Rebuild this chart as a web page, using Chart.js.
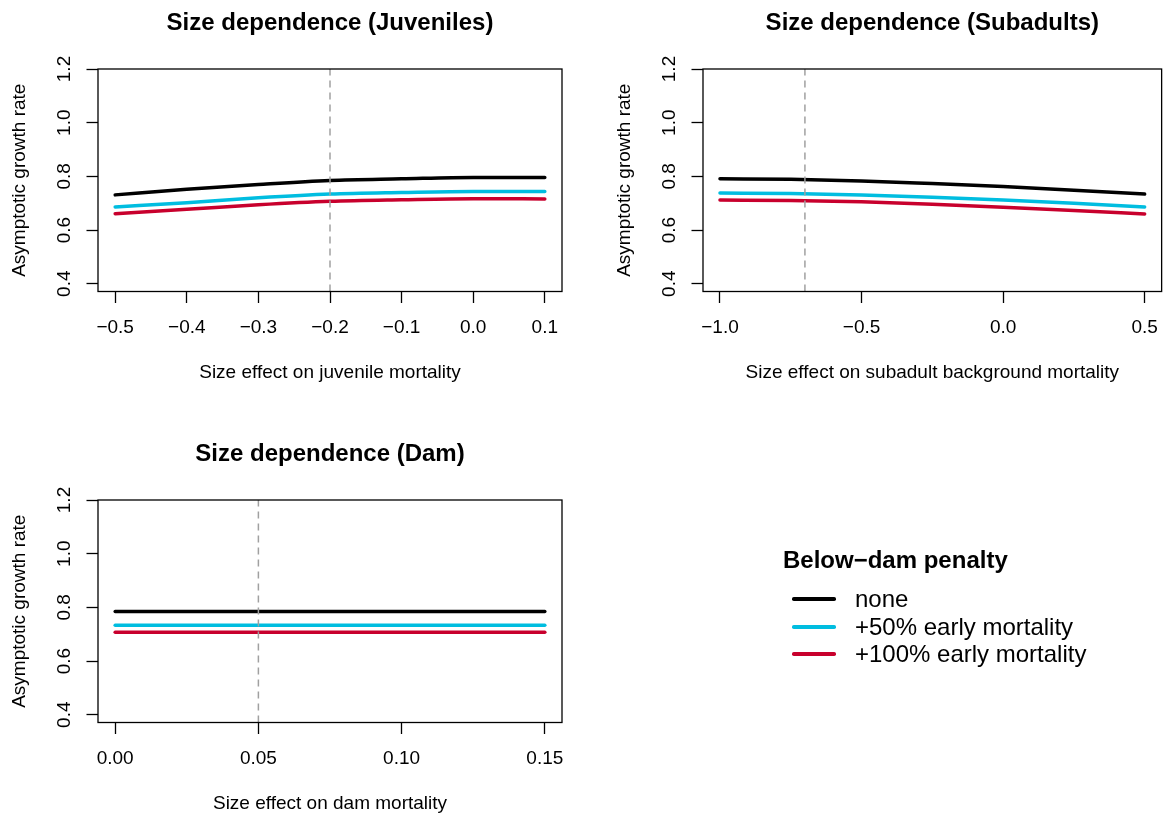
<!DOCTYPE html>
<html>
<head>
<meta charset="utf-8">
<title>Size dependence</title>
<script src="https://cdn.jsdelivr.net/npm/chart.js@4.4.1/dist/chart.umd.min.js"></script>
<style>
  body { margin: 0; background: #fff; }
  #page { position: relative; width: 1171px; height: 818px; overflow: hidden; }
  #page canvas { position: absolute; left: 0; top: 0; }
  .lg { position: absolute; font-family: 'Liberation Sans', Arial, Helvetica, sans-serif; color: #000; line-height: 1; white-space: nowrap; }
  .sw { position: absolute; height: 3.5px; width: 44px; border-radius: 1.75px; }
</style>
</head>
<body>
<div id="page">
  <canvas id="juv" width="1171" height="818"></canvas>
  <canvas id="sub" width="1171" height="818"></canvas>
  <canvas id="dam" width="1171" height="818"></canvas>

  <div class="lg" style="left:783px; top:548px; font-size:24px; font-weight:bold;">Below−dam penalty</div>
  <div class="sw" style="left:792px; top:597.25px; background:#000000;"></div>
  <div class="lg" style="left:855px; top:587px; font-size:24px;">none</div>
  <div class="sw" style="left:792px; top:625.25px; background:#00bde0;"></div>
  <div class="lg" style="left:855px; top:615px; font-size:24px;">+50% early mortality</div>
  <div class="sw" style="left:792px; top:652.25px; background:#c8002d;"></div>
  <div class="lg" style="left:855px; top:642px; font-size:24px;">+100% early mortality</div>
</div>

<script>
// growth rate under the three below-dam penalty scenarios
const seriesNames = ['none', '+50% early mortality', '+100% early mortality'];
const seriesColors = ['#000000', '#00bde0', '#c8002d'];

// juvenile size effect
const juvX = [-0.5, -0.4, -0.3, -0.2, -0.1, 0.0, 0.1];
const juvNone = [0.731, 0.752, 0.770, 0.785, 0.791, 0.796, 0.796];
const juvPlus50 = [0.686, 0.702, 0.720, 0.734, 0.740, 0.744, 0.744];
const juvPlus100 = [0.661, 0.677, 0.694, 0.707, 0.713, 0.717, 0.716];
const juvRef = -0.2;

// subadult background mortality size effect
const subX = [-1.0, -0.75, -0.5, -0.25, 0.0, 0.25, 0.5];
const subNone = [0.791, 0.789, 0.783, 0.773, 0.762, 0.748, 0.734];
const subPlus50 = [0.738, 0.736, 0.731, 0.722, 0.712, 0.700, 0.686];
const subPlus100 = [0.712, 0.710, 0.705, 0.696, 0.685, 0.673, 0.660];
const subRef = -0.7;

// dam mortality size effect
const damX = [0.0, 0.05, 0.10, 0.15];
const damNone = [0.785, 0.785, 0.785, 0.785];
const damPlus50 = [0.733, 0.733, 0.733, 0.733];
const damPlus100 = [0.707, 0.707, 0.707, 0.707];
const damRef = 0.05;

// axis ticks
const yTicks = [0.4, 0.6, 0.8, 1.0, 1.2];
const yTickLabels = ['0.4', '0.6', '0.8', '1.0', '1.2'];
const juvXTicks = [-0.5, -0.4, -0.3, -0.2, -0.1, 0.0, 0.1];
const juvXTickLabels = ['−0.5', '−0.4', '−0.3', '−0.2', '−0.1', '0.0', '0.1'];
const subXTicks = [-1.0, -0.5, 0.0, 0.5];
const subXTickLabels = ['−1.0', '−0.5', '0.0', '0.5'];
const damXTicks = [0.0, 0.05, 0.10, 0.15];
const damXTickLabels = ['0.00', '0.05', '0.10', '0.15'];

const FONT = "'Liberation Sans', Arial, Helvetica, sans-serif";
const Y_MIN = 0.371, Y_MAX = 1.2;
const PAGE_W = 1171, PAGE_H = 818;
const Y_AXIS_W = 60, X_AXIS_H = 60;

Chart.defaults.font.family = FONT;
Chart.defaults.color = '#000';

// box round the plot area, plus the main and axis titles
const frame = {
  id: 'frame',
  afterDraw(chart, args, opts) {
    const { ctx, chartArea: a } = chart;
    const cx = (a.left + a.right) / 2;
    ctx.save();
    ctx.strokeStyle = '#000';
    ctx.lineWidth = 1.3;
    ctx.strokeRect(a.left, a.top, a.right - a.left, a.bottom - a.top);
    ctx.fillStyle = '#000';
    ctx.textAlign = 'center';
    ctx.textBaseline = 'middle';
    ctx.font = 'bold 24px ' + FONT;
    ctx.fillText(opts.title, cx, a.top - 46);
    ctx.font = '19px ' + FONT;
    ctx.fillText(opts.xTitle, cx, a.bottom + 81.5);
    ctx.translate(a.left - 78, (a.top + a.bottom) / 2);
    ctx.rotate(-Math.PI / 2);
    ctx.fillText(opts.yTitle, 0, 0);
    ctx.restore();
  }
};

function pts(xs, ys) {
  return xs.map((x, i) => ({ x: x, y: ys[i] }));
}

function makePanel(id, cfg) {
  const a = cfg.area;
  const lines = cfg.series.map((ys, i) => ({
    label: seriesNames[i],
    data: pts(cfg.x, ys),
    borderColor: seriesColors[i],
    borderWidth: 3.5,
    borderCapStyle: 'round',
    pointRadius: 0,
    cubicInterpolationMode: 'monotone',
    order: i + 1
  }));
  // vertical dashed reference line
  lines.push({
    label: 'reference',
    data: [{ x: cfg.ref, y: Y_MIN }, { x: cfg.ref, y: Y_MAX }],
    borderColor: '#a0a0a0',
    borderWidth: 1.5,
    borderDash: [7, 5],
    pointRadius: 0,
    order: 0
  });

  new Chart(document.getElementById(id), {
    type: 'line',
    data: { datasets: lines },
    plugins: [frame],
    options: {
      responsive: false,
      animation: false,
      events: [],
      layout: {
        padding: {
          left: a.left - Y_AXIS_W,
          top: a.top,
          right: PAGE_W - a.right,
          bottom: PAGE_H - a.bottom - X_AXIS_H
        }
      },
      plugins: {
        legend: { display: false },
        tooltip: { enabled: false },
        frame: { title: cfg.title, xTitle: cfg.xTitle, yTitle: 'Asymptotic growth rate' }
      },
      scales: {
        x: {
          type: 'linear',
          min: cfg.xMin,
          max: cfg.xMax,
          afterBuildTicks: s => { s.ticks = cfg.xTicks.map(v => ({ value: v })); },
          afterFit: s => { s.height = X_AXIS_H; },
          border: { display: false },
          grid: { drawOnChartArea: false, tickLength: 11.5, tickColor: '#000', tickWidth: 1.3 },
          ticks: {
            autoSkip: false,
            maxRotation: 0,
            padding: 13,
            font: { size: 19 },
            callback: (v, i) => cfg.xTickLabels[i]
          }
        },
        y: {
          type: 'linear',
          min: Y_MIN,
          max: Y_MAX,
          afterBuildTicks: s => { s.ticks = yTicks.map(v => ({ value: v })); },
          afterFit: s => { s.width = Y_AXIS_W; },
          border: { display: false },
          grid: { drawOnChartArea: false, tickLength: 11.5, tickColor: '#000', tickWidth: 1.3 },
          ticks: {
            minRotation: 90,
            maxRotation: 90,
            crossAlign: 'center',
            padding: 9,
            font: { size: 19 },
            callback: (v, i) => yTickLabels[i]
          }
        }
      }
    }
  });
}

makePanel('juv', {
  title: 'Size dependence (Juveniles)',
  xTitle: 'Size effect on juvenile mortality',
  area: { left: 98, top: 69, right: 562, bottom: 291.5 },
  xMin: -0.524, xMax: 0.124,
  x: juvX, series: [juvNone, juvPlus50, juvPlus100], ref: juvRef,
  xTicks: juvXTicks, xTickLabels: juvXTickLabels
});

makePanel('sub', {
  title: 'Size dependence (Subadults)',
  xTitle: 'Size effect on subadult background mortality',
  area: { left: 703, top: 69, right: 1167, bottom: 291.5 },
  xMin: -1.06, xMax: 0.56,
  x: subX, series: [subNone, subPlus50, subPlus100], ref: subRef,
  xTicks: subXTicks, xTickLabels: subXTickLabels
});

makePanel('dam', {
  title: 'Size dependence (Dam)',
  xTitle: 'Size effect on dam mortality',
  area: { left: 98, top: 500, right: 562, bottom: 722.5 },
  xMin: -0.006, xMax: 0.156,
  x: damX, series: [damNone, damPlus50, damPlus100], ref: damRef,
  xTicks: damXTicks, xTickLabels: damXTickLabels
});
</script>
</body>
</html>
